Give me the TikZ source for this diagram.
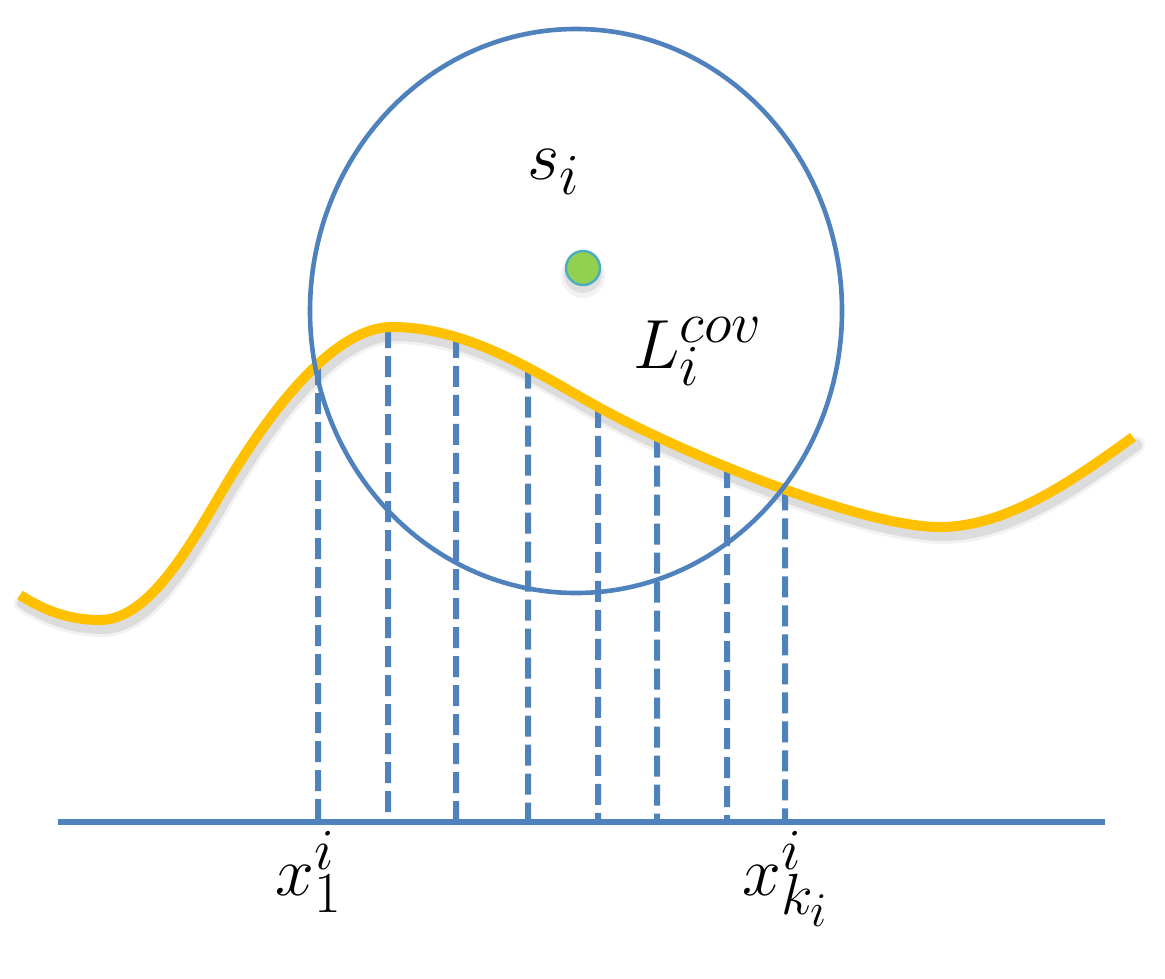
\documentclass[tikz,border=0pt]{standalone}
\usetikzlibrary{intersections}
\definecolor{cblue}{HTML}{4F81BD}
\definecolor{cgold}{HTML}{FFC000}
\definecolor{cgreen}{HTML}{92D050}
\definecolor{cteal}{HTML}{4BACC6}
\newcommand{\bigmath}[1]{\scalebox{1.4}{$#1$}}
\begin{document}
\begin{tikzpicture}[x=0.5pt,y=-0.5pt,
  lab/.style={inner sep=0pt, font=\Huge, anchor=base west},
  dashline/.style={draw=cblue, line width=3pt, dash pattern=on 10.5pt off 4pt},
  axisline/.style={draw=cblue, line width=3pt},
  ringline/.style={draw=cblue, line width=2.3pt},
  goldline/.style={draw=cgold, line width=5pt},
  shadowline/.style={draw=black, line cap=round}]
\useasboundingbox (0,0) rectangle (1165,978);
\fill[white] (0,0) rectangle (1165,978);
% shadow of the curve
\begin{scope}[shift={(3,8)}]
\draw[shadowline, line width=9pt, opacity=0.05] (20,595) .. controls (45,611) and (70,620) .. (100,620) .. controls (155,620) and (200,526) .. (235,470) .. controls (265,422) and (330,327) .. (392,327) .. controls (470,327) and (540,375) .. (600,408) .. controls (680,452) and (860,527) .. (940,527) .. controls (1010,527) and (1080,475) .. (1133,437);
\draw[shadowline, line width=6pt, opacity=0.09] (20,595) .. controls (45,611) and (70,620) .. (100,620) .. controls (155,620) and (200,526) .. (235,470) .. controls (265,422) and (330,327) .. (392,327) .. controls (470,327) and (540,375) .. (600,408) .. controls (680,452) and (860,527) .. (940,527) .. controls (1010,527) and (1080,475) .. (1133,437);
\end{scope}
% the curve path (named, not drawn yet)
\path[name path=gold] (20,595) .. controls (45,611) and (70,620) .. (100,620) .. controls (155,620) and (200,526) .. (235,470) .. controls (265,422) and (330,327) .. (392,327) .. controls (470,327) and (540,375) .. (600,408) .. controls (680,452) and (860,527) .. (940,527) .. controls (1010,527) and (1080,475) .. (1133,437);
% dashed verticals
\foreach \xx [count=\k] in {318,388,456,528,598,657,727,785} {
  \path[name path=v\k] (\xx,0) -- (\xx,978);
  \path[name intersections={of=gold and v\k, by={t\k}}];
  \coordinate (b\k) at (\xx,822);
  \draw[dashline] (t\k) -- (b\k);
}
% axis
\coordinate (axl) at (58,822);
\coordinate (axr) at (1105,822);
\draw[axisline] (axl) -- (axr);
% gold curve
\draw[goldline] (20,595) .. controls (45,611) and (70,620) .. (100,620) .. controls (155,620) and (200,526) .. (235,470) .. controls (265,422) and (330,327) .. (392,327) .. controls (470,327) and (540,375) .. (600,408) .. controls (680,452) and (860,527) .. (940,527) .. controls (1010,527) and (1080,475) .. (1133,437);
% circle
\coordinate (cc) at (576,311);
\draw[ringline] (cc) ellipse [x radius=133pt, y radius=141pt];
% green dot with shadow
\fill[black, opacity=0.05] (583,276) circle [radius=11pt];
\fill[black, opacity=0.08] (583,274) circle [radius=9.5pt];
\node[circle, fill=cgreen, draw=cteal, line width=1.2pt, minimum size=17pt, inner sep=0pt] (dot) at (583,268) {};
% labels
\node[lab] (si) at (527,180) {\bigmath{s_i}};
\node[lab] (lcov) at (633,368) {\bigmath{L_i^{cov}}};
\node[lab] (x1) at (275,895) {\bigmath{x_1^i}};
\node[lab] (xk) at (742,895) {\bigmath{x_{k_i}^i}};
\end{tikzpicture}
\end{document}
